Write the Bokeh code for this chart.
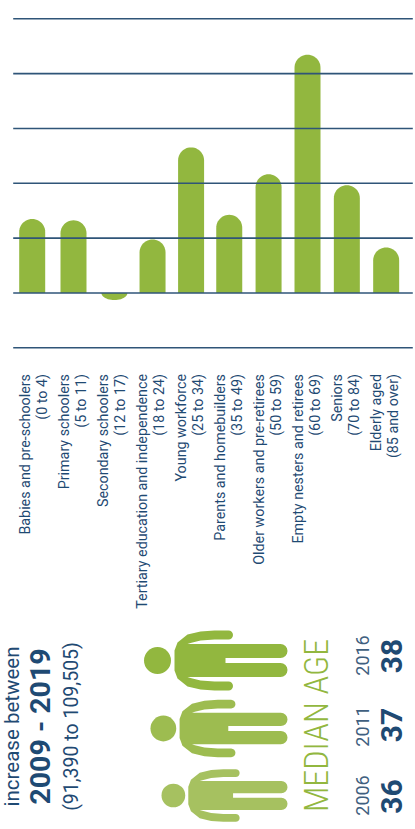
import math

from bokeh.core.properties import value
from bokeh.embed import file_html
from bokeh.layouts import column
from bokeh.models import ColumnDataSource, Range1d
from bokeh.plotting import figure
from bokeh.resources import INLINE

# Population change per service age group, 2009 to 2019
age_groups = [
    "Babies and pre-schoolers", "Primary schoolers", "Secondary schoolers",
    "Tertiary education and independence", "Young workforce",
    "Parents and homebuilders", "Older workers and pre-retirees",
    "Empty nesters and retirees", "Seniors", "Elderly aged",
]
age_ranges = [
    "(0 to 4)", "(5 to 11)", "(12 to 17)", "(18 to 24)", "(25 to 34)",
    "(35 to 49)", "(50 to 59)", "(60 to 69)", "(70 to 84)", "(85 and over)",
]
population_change = [1350, 1325, -130, 975, 2655, 1425, 2165, 4345, 1965, 830]
grid_ticks = [-1000, 0, 1000, 2000, 3000, 4000, 5000]

# Median age panel
median_years = ["2006", "2011", "2016"]
median_ages = ["36", "37", "38"]

NAVY = "#1f4a73"
SLATE = "#3f5f80"
GREEN = "#92b73f"
FIGURE_GREENS = ["#a6c160", "#9dbc50", "#92b73f"]
FIGURE_SCALES = [0.878, 0.955, 1.0]
FIGURE_ROWS = [795, 728, 660]
BAR_NUDGE = [0.0, 0.05, 0.09, 0.06, 0.04, 0.01, 0.01, 0.0, 0.0, 0.0]
FONT = "Roboto"

PX_PER_UNIT = 54.83 / 1000
PX_PER_BAR = 39.33
BAR_WIDTH = 26 / PX_PER_BAR
CAP_RADIUS = 13 / PX_PER_UNIT
X_START = -31.7 / PX_PER_BAR


def rounded_bar(x, v):
    """Outline of a bar from zero to v whose far end is a half ellipse."""
    half = BAR_WIDTH / 2
    ry = min(abs(v), CAP_RADIUS)
    sign = 1 if v >= 0 else -1
    xs, ys = [x - half], [0]
    for k in range(25):
        a = math.pi * k / 24
        xs.append(x - half * math.cos(a))
        ys.append(v - sign * ry + sign * ry * math.sin(a))
    xs.append(x + half)
    ys.append(0)
    return xs, ys


bar_shapes = [rounded_bar(i + BAR_NUDGE[i], v) for i, v in enumerate(population_change)]

chart = figure(
    width=415, height=355, output_backend="svg", toolbar_location=None,
    x_range=Range1d(X_START, X_START + 415 / PX_PER_BAR),
    y_range=Range1d(-1000 - 7.7 / PX_PER_UNIT, 5000 + 18.3 / PX_PER_UNIT),
    min_border=0, outline_line_color=None,
    background_fill_color="white", border_fill_color="white",
)
chart.axis.visible = False
chart.grid.visible = False
chart.patches([s[0] for s in bar_shapes], [s[1] for s in bar_shapes],
              fill_color=GREEN, line_color=None)

# Rules run across the bars, stopping short of the page edges
rule_left = X_START + 12.7 / PX_PER_BAR
rule_right = X_START + 412.3 / PX_PER_BAR
chart.segment(x0=[rule_left] * len(grid_ticks), x1=[rule_right] * len(grid_ticks),
              y0=grid_ticks, y1=grid_ticks, line_color="#2f5578", line_width=1.6)

panel = figure(
    width=415, height=474, output_backend="svg", toolbar_location=None,
    x_range=Range1d(0, 415), y_range=Range1d(829, 355),
    min_border=0, outline_line_color=None,
    background_fill_color="white", border_fill_color="white",
)
panel.axis.visible = False
panel.grid.visible = False


def vertical_text(x, y, text, size, color, font=FONT, style="normal", align="right"):
    panel.text(
        x=[x], y=[y], text=[text], angle=math.pi / 2,
        text_font=value(font), text_font_size=f"{size}px", text_font_style=style,
        text_color=color, text_align=align, text_baseline="middle",
    )


label_source = ColumnDataSource(dict(
    x=[24 + 39 * i for i in range(len(age_groups))],
    x2=[41 + 39 * i for i in range(len(age_groups))],
    y=[373.5] * len(age_groups),
    name=age_groups,
    span=age_ranges,
))
for x_field, text_field in (("x", "name"), ("x2", "span")):
    panel.text(
        x=x_field, y="y", text=text_field, source=label_source, angle=math.pi / 2,
        text_font=value(FONT), text_font_size="14.3px", text_color=NAVY,
        text_align="right", text_baseline="middle",
    )

vertical_text(11.5, 726, "increase between", 20.5, NAVY, align="center")
vertical_text(40, 726, "2009 - 2019", 28.5, NAVY, style="bold", align="center")
vertical_text(71, 726, "(91,390 to 109,505)", 19.5, NAVY, align="center")
vertical_text(315, 725, "MEDIAN AGE", 34, GREEN, font="Roboto Condensed Light", align="center")


def person_outline():
    """Half outline of a lying figure, feet at x=0, traced from the torso's crown."""
    pts = [(-113, 0), (-113, 10), (-110, 18), (-100, 26), (-87, 29), (-73, 30), (-59, 30)]
    for k in range(9):
        a = math.pi / 2 - math.pi * k / 8
        pts.append((-59 + 4.5 * math.cos(a), 25.5 + 4.5 * math.sin(a)))
    pts += [(-73, 21), (-87, 20), (-97, 17.5), (-100, 16.5), (-7, 16.5)]
    for k in range(9):
        a = math.pi / 2 - math.pi * k / 8
        pts.append((-7 + 7 * math.cos(a), 9.5 + 7 * math.sin(a)))
    pts += [(-62, 2.5), (-62, 0)]
    return pts


half = person_outline()
outline = half + [(x, -y) for x, y in reversed(half)]

for year, age, color, scale, row in zip(median_years, median_ages, FIGURE_GREENS, FIGURE_SCALES, FIGURE_ROWS):
    panel.patch([287 + x * scale for x, _ in outline], [row + y * scale for _, y in outline],
                fill_color=color, line_color=None)
    panel.ellipse(x=[287 - 130 * scale], y=[row], width=27 * scale, height=27 * scale,
                  fill_color=color, line_color=None)

year_rows = [795, 726, 655]
age_rows = [796, 724.5, 655.5]
for year, age, year_row, age_row in zip(median_years, median_ages, year_rows, age_rows):
    vertical_text(362, year_row, year, 18, SLATE, align="center")
    vertical_text(391, age_row, age, 30, NAVY, style="bold", align="center")

open("out.html", "w").write(file_html(column(chart, panel), INLINE))
